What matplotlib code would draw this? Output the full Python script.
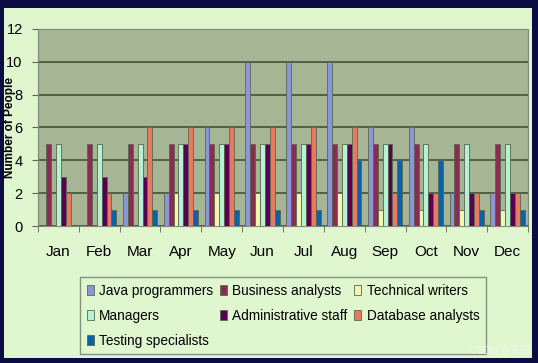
import matplotlib
matplotlib.use("Agg")
import matplotlib.pyplot as plt
import numpy as np
from matplotlib.patches import Patch

plt.rcParams['font.family'] = ['Liberation Sans', 'Noto Sans CJK SC', 'DejaVu Sans']

months = ["Jan", "Feb", "Mar", "Apr", "May", "Jun", "Jul", "Aug", "Sep", "Oct", "Nov", "Dec"]
series_names = ["Java programmers", "Business analysts", "Technical writers", "Managers",
                "Administrative staff", "Database analysts", "Testing specialists"]
java = [0, 0, 2, 2, 6, 10, 10, 10, 6, 6, 2, 2]
business = [5, 5, 5, 5, 5, 5, 5, 5, 5, 5, 5, 5]
technical = [0, 0, 0, 2, 2, 2, 2, 2, 1, 1, 1, 1]
managers = [5, 5, 5, 5, 5, 5, 5, 5, 5, 5, 5, 5]
admin = [3, 3, 3, 5, 5, 5, 5, 5, 5, 2, 2, 2]
database = [2, 2, 6, 6, 6, 6, 6, 6, 2, 2, 2, 2]
testing = [0, 1, 1, 1, 1, 1, 1, 4, 4, 4, 1, 1]
series = [java, business, technical, managers, admin, database, testing]
colors = ["#8a96d8", "#8a2c52", "#f4f5b2", "#b4f2d2", "#5a0052", "#e87a62", "#0a62a8"]

W, H = 538, 363
fig = plt.figure(figsize=(W / 100, H / 100), dpi=100)
fig.patch.set_facecolor("#0c0c44")
bg = fig.add_axes([4 / W, 5 / H, 528 / W, 350 / H], zorder=-5)
bg.set_facecolor("#dff6cf")
bg.set_xticks([])
bg.set_yticks([])
for s in bg.spines.values():
    s.set_visible(False)

ax = fig.add_axes([38 / W, 1 - 226 / H, 490 / W, 197 / H], zorder=1)
ax.set_facecolor("#a6b594")
x = np.arange(len(months))
bw = 0.12
n = len(series)
for i, (vals, c) in enumerate(zip(series, colors)):
    ax.bar(x + (i - (n - 1) / 2) * bw, vals, width=bw, color=c, edgecolor="#5b6650",
           linewidth=0.6, zorder=3)

ax.set_xlim(-0.5, len(months) - 0.5)
ax.set_ylim(0, 12)
ax.set_yticks(range(0, 13, 2))
ax.yaxis.grid(True, color="#4a5840", linewidth=1.3, zorder=1)
ax.set_axisbelow(True)
ax.set_xticks(x)
ax.set_xticklabels(months, fontsize=11)
ax.set_xticks(np.arange(-0.5, len(months)), minor=True)
ax.tick_params(axis="x", which="major", length=0, pad=14)
ax.tick_params(axis="x", which="minor", length=4, direction="out", color="#606060")
ax.tick_params(axis="y", length=4, direction="out", labelsize=10.5, color="#606060", pad=7)
for s in ax.spines.values():
    s.set_color("#808878")
    s.set_linewidth(0.8)
ax.set_ylabel("Number of People", fontsize=8.5, fontweight="bold")
ax.yaxis.set_label_coords(-22 / 490, 0.5)

handles = [Patch(facecolor=c, edgecolor="#5b6650", linewidth=0.6) for c in colors]
order = [0, 3, 6, 1, 4, 2, 5]
leg = fig.legend([handles[i] for i in order], [series_names[i] for i in order],
                 ncol=3, loc="upper left", bbox_to_anchor=(80 / W, 1 - 277 / H),
                 borderaxespad=0, fontsize=9.8, frameon=True, fancybox=False,
                 handlelength=0.5, handleheight=0.7, handletextpad=0.4,
                 columnspacing=0.5, labelspacing=0.8, borderpad=0.5)
leg.get_frame().set_edgecolor("#707a68")
leg.get_frame().set_facecolor("#dff6cf")
leg.get_frame().set_linewidth(1.0)

fig.text(530 / W, 1 - 351 / H, "CSDN @天问", fontsize=7, color="#f4f8f0", alpha=0.8,
         ha="right", va="center", zorder=10)

fig.savefig("out.png", dpi=100, facecolor=fig.get_facecolor())
